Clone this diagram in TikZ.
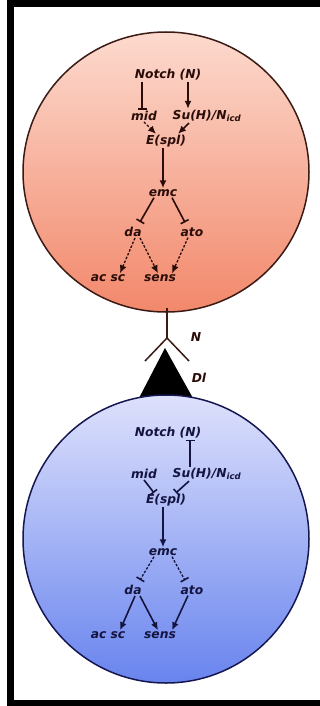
\documentclass[tikz,border=0pt]{standalone}
\usepackage{fontspec}
\setmainfont{DejaVu Sans}
\usetikzlibrary{arrows.meta}
\definecolor{redink}{HTML}{2A0C08}
\definecolor{blueink}{HTML}{14143F}
\definecolor{redrim}{HTML}{3A1A14}
\definecolor{bluerim}{HTML}{161650}
\definecolor{redtop}{HTML}{FCDACE}
\definecolor{redmid}{HTML}{F9B19B}
\definecolor{redbot}{HTML}{F2886B}
\definecolor{bluetop}{HTML}{DEE1FC}
\definecolor{bluemid}{HTML}{A9B6F5}
\definecolor{bluebot}{HTML}{6884EE}
\begin{document}
\begin{tikzpicture}[x=1pt,y=-1pt,
  lbl/.style={font=\bfseries\itshape\fontsize{12.3}{13}\selectfont, inner sep=1pt},
  act/.style={-{Latex[length=8pt,width=7pt]}, line width=1.6pt},
  inh/.style={-{Bar[width=9pt,line width=1.6pt]}, line width=1.6pt},
  dsh/.style={dash pattern=on 2.5pt off 1.6pt, line width=1.3pt}]
\useasboundingbox (0,0) rectangle (320,706);
\fill[white] (0,0) rectangle (320,706);
% frame bars
\fill[black] (7,0) rectangle (320,7);
\fill[black] (7,0) rectangle (14,706);
\fill[black] (7,700) rectangle (320,706);

% upper cell
\shade[top color=redtop, middle color=redmid, bottom color=redbot]
  (166,172) ellipse [x radius=143, y radius=140];
\draw[redrim, line width=1.5pt] (166,172) ellipse [x radius=143, y radius=140];

% Delta ligand
\fill[black] (165,348) -- (138,400) -- (194,400) -- cycle;

% lower cell
\shade[top color=bluetop, middle color=bluemid, bottom color=bluebot]
  (166,539) ellipse [x radius=143, y radius=144];
\draw[bluerim, line width=1.5pt] (166,539) ellipse [x radius=143, y radius=144];

% Notch receptor
\draw[redrim, line width=1.5pt] (167,308) -- (167,338) coordinate (fork);
\draw[redrim, line width=1.5pt] (145,361) -- (fork) -- (189,361);
\node[lbl, text=redink] (lN) at (196,337) {N};
\node[lbl, text=redink] (lDl) at (199,378) {Dl};

% upper network
\begin{scope}[text=redink, draw=redink, color=redink]
\node[lbl] (n1) at (168,75) {Notch (N)};
\node[lbl] (m1) at (144,116) {mid};
\node[lbl] (s1) at (207,116) {Su(H)/N\textsubscript{icd}};
\node[lbl] (e1) at (166,141) {E(spl)};
\node[lbl] (c1) at (163,193) {emc};
\node[lbl] (d1) at (133,232) {da};
\node[lbl] (a1) at (192,232) {ato};
\node[lbl] (ac1) at (108,278) {ac sc};
\node[lbl] (se1) at (160,278) {sens};
\draw[inh] (n1.south -| 142,0) -- (m1.north -| 142,0);
\draw[act] (n1.south -| 188,0) -- (s1.north -| 188,0);
\draw[act, dsh] (m1.south) -- ([xshift=-10pt]e1.north);
\draw[act] ([xshift=-18pt]s1.south) -- ([xshift=12pt]e1.north);
\draw[act] (e1.south -| c1.north) -- (c1.north);
\draw[inh] ([xshift=-9pt]c1.south) -- ([xshift=7pt,yshift=4pt]d1.north);
\draw[inh] ([xshift=9pt]c1.south) -- ([xshift=-7pt,yshift=4pt]a1.north);
\draw[act, dsh] ([xshift=2pt]d1.south) -- ([xshift=12pt]ac1.north);
\draw[act, dsh] ([xshift=7pt]d1.south) -- ([xshift=-2pt]se1.north);
\draw[act, dsh] ([xshift=-4pt]a1.south) -- ([xshift=12pt]se1.north);
\end{scope}

% lower network
\begin{scope}[text=blueink, draw=blueink, color=blueink]
\node[lbl] (n2) at (168,433) {Notch (N)};
\node[lbl] (m2) at (144,474) {mid};
\node[lbl] (s2) at (207,474) {Su(H)/N\textsubscript{icd}};
\node[lbl] (e2) at (166,500) {E(spl)};
\node[lbl] (c2) at (163,552) {emc};
\node[lbl] (d2) at (133,590) {da};
\node[lbl] (a2) at (192,590) {ato};
\node[lbl] (ac2) at (108,635) {ac sc};
\node[lbl] (se2) at (160,635) {sens};
\draw[inh] (s2.north -| 190,0) -- (n2.south -| 190,0);
\draw[inh] (m2.south) -- ([xshift=-12pt]e2.north);
\draw[inh] ([xshift=-18pt]s2.south) -- ([xshift=10pt]e2.north);
\draw[act] (e2.south -| c2.north) -- (c2.north);
\draw[inh, dsh] ([xshift=-9pt]c2.south) -- ([xshift=7pt,yshift=4pt]d2.north);
\draw[inh, dsh] ([xshift=9pt]c2.south) -- ([xshift=-7pt,yshift=4pt]a2.north);
\draw[act] ([xshift=2pt]d2.south) -- ([xshift=12pt]ac2.north);
\draw[act] ([xshift=7pt]d2.south) -- ([xshift=-2pt]se2.north);
\draw[act] ([xshift=-4pt]a2.south) -- ([xshift=12pt]se2.north);
\end{scope}
\end{tikzpicture}
\end{document}
